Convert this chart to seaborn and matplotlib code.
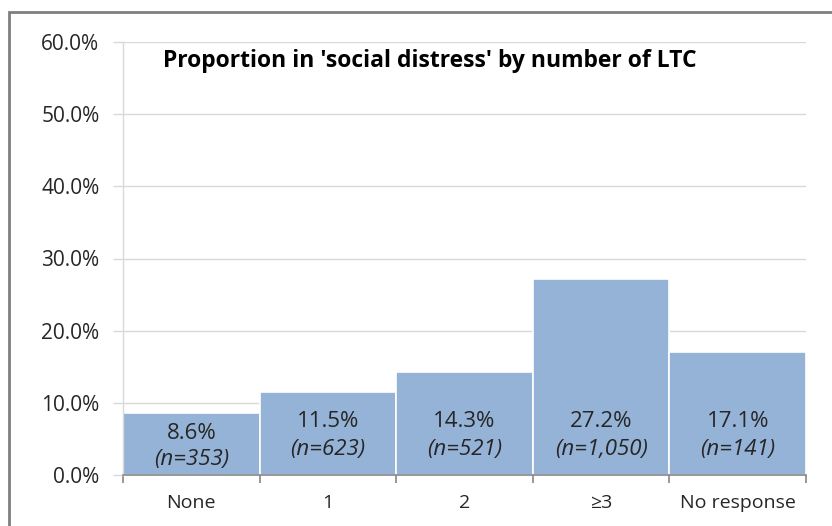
import matplotlib
matplotlib.use("Agg")
import matplotlib.pyplot as plt
import seaborn as sns
import pandas as pd
from matplotlib.ticker import FuncFormatter, FixedLocator
from matplotlib.patches import Rectangle

categories = ["None", "1", "2", "≥3", "No response"]
proportions = [0.086, 0.115, 0.143, 0.272, 0.171]
counts = ["353", "623", "521", "1,050", "141"]
title = "Proportion in 'social distress' by number of LTC"

sns.set_theme(style="white")
plt.rcParams['font.family'] = ['Open Sans', 'DejaVu Sans']

df = pd.DataFrame({"cat": categories, "p": proportions})

fig = plt.figure(figsize=(8.32, 5.26), dpi=100)
W, H = 832, 526
ax = fig.add_axes([123 / W, 1 - 475 / H, (806 - 123) / W, (475 - 42) / H])

sns.barplot(data=df, x="cat", y="p", color="#95B3D7", saturation=1, width=1.0,
            edgecolor="white", linewidth=1.2, ax=ax)

ax.set_xlim(-0.5, len(categories) - 0.5)
ax.set_ylim(0, 0.6)
ax.set_yticks([0, 0.1, 0.2, 0.3, 0.4, 0.5, 0.6])
ax.yaxis.set_major_formatter(FuncFormatter(lambda v, _: f"{v*100:.1f}%"))
ax.grid(axis="y", color="#D9D9D9", linewidth=1)
ax.set_axisbelow(True)
ax.set_xlabel("")
ax.set_ylabel("")

for s in ["top", "right"]:
    ax.spines[s].set_visible(False)
ax.spines["left"].set_color("#D9D9D9")
ax.spines["left"].set_linewidth(1)
ax.spines["bottom"].set_color("#868686")
ax.spines["bottom"].set_linewidth(1.2)

ax.tick_params(axis="y", which="major", length=7, color="#D9D9D9", width=1,
               labelsize=15, labelcolor="#262626", pad=10, left=True)
ax.tick_params(axis="x", which="major", length=0, labelsize=14, labelcolor="#262626", pad=14)
ax.xaxis.set_minor_locator(FixedLocator([i - 0.5 for i in range(len(categories) + 1)]))
ax.tick_params(axis="x", which="minor", length=6, color="#868686", width=1.2, bottom=True)

for i, (p, n) in enumerate(zip(proportions, counts)):
    if p < 0.1:
        y1, y2 = 0.058, 0.021
    else:
        y1, y2 = 0.0745, 0.036
    ax.text(i, y1, f"{p*100:.1f}%", ha="center", va="center", fontsize=16, color="#262626")
    ax.text(i, y2, f"(n={n})", ha="center", va="center", fontsize=16, style="italic", color="#262626")

fig.text(163 / W, 1 - 61 / H, title, ha="left", va="center", fontsize=16.5,
         fontweight="bold", color="#000000")

fig.patches.append(Rectangle((9 / W, -0.1), 1.2, 1 - 12 / H + 0.1, transform=fig.transFigure,
                             fill=False, edgecolor="#7F7F7F", linewidth=2, zorder=10))

fig.savefig("out.png", dpi=100)
